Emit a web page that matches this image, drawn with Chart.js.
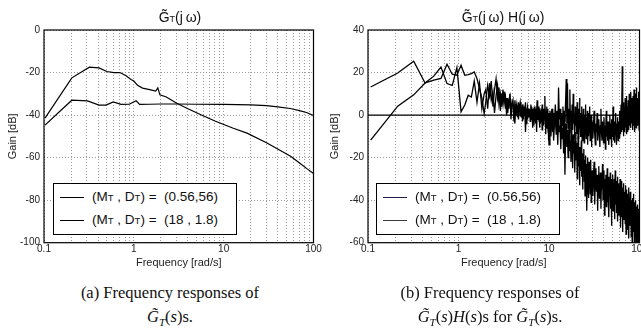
<!DOCTYPE html>
<html>
<head>
<meta charset="utf-8">
<script src="https://cdn.jsdelivr.net/npm/chart.js@4.4.0/dist/chart.umd.min.js"></script>
<style>
  body { margin: 0; background: #fff; width: 641px; height: 335px; overflow: hidden; position: relative; font-family: "Liberation Sans", Arial, sans-serif; }
  canvas { position: absolute; top: 0; }
  .title { position: absolute; top: 9px; font-size: 14px; color: #111; text-align: center; white-space: nowrap; }
  .sm { font-size: 9px; }
  .legend { position: absolute; top: 183px; width: 182px; height: 50px; border: 1px solid #000; background: #fff; font-size: 13.5px; color: #111; }
  .legend .sm { font-size: 9.5px; }
  .row { position: absolute; left: 0; height: 20px; line-height: 20px; white-space: nowrap; }
  .row i { position: absolute; left: 6px; top: 10px; width: 24px; height: 0; border-top: 1.3px solid #000; }
  .row span.t { position: absolute; left: 38px; }
  .cap { position: absolute; font-family: "Liberation Serif", "DejaVu Serif", serif; font-size: 16.5px; color: #111; text-align: center; white-space: nowrap; }
</style>
</head>
<body>
<canvas id="left" width="330" height="272" style="left:0"></canvas>
<canvas id="right" width="330" height="272" style="left:322px"></canvas>

<div class="title" style="left:130px;width:100px">G&#771;<span class="sm">T</span>(j&thinsp;&omega;)</div>
<div class="title" style="left:428px;width:150px">G&#771;<span class="sm">T</span>(j&thinsp;&omega;) H(j&thinsp;&omega;)</div>

<div class="legend" style="left:53px">
  <div class="row" style="top:3px"><i></i><span class="t">(M<span class="sm">T</span> , D<span class="sm">T</span>) =&nbsp; (0.56,56)</span></div>
  <div class="row" style="top:26px"><i></i><span class="t">(M<span class="sm">T</span> , D<span class="sm">T</span>) =&nbsp; (18 , 1.8)</span></div>
</div>
<div class="legend" style="left:376px">
  <div class="row" style="top:3px"><i style="border-color:#1c1c50"></i><span class="t">(M<span class="sm">T</span> , D<span class="sm">T</span>) =&nbsp; (0.56,56)</span></div>
  <div class="row" style="top:26px"><i style="border-color:#3a3a3a"></i><span class="t">(M<span class="sm">T</span> , D<span class="sm">T</span>) =&nbsp; (18 , 1.8)</span></div>
</div>

<div class="cap" style="left:40px;width:260px;top:283px">(a) Frequency responses of</div>
<div class="cap" style="left:40px;width:260px;top:307px"><i>G&#771;<sub style="font-size:11px">T</sub></i>(<i>s</i>)s.</div>
<div class="cap" style="left:360px;width:260px;top:283px">(b) Frequency responses of</div>
<div class="cap" style="left:340px;width:300px;top:307px"><i>G&#771;<sub style="font-size:11px">T</sub></i>(<i>s</i>)<i>H</i>(<i>s</i>)s for <i>G&#771;<sub style="font-size:11px">T</sub></i>(<i>s</i>)s.</div>

<script>
// grid positions on the log axis, labels only on decades
const xGrid = [0.1,0.2,0.3,0.4,0.5,0.6,0.7,0.8,0.9,1,2,3,4,5,6,7,8,9,10,20,30,40,50,60,70,80,90,100];
const xLabels = [0.1, 1, 10, 100];

// (a) G~T(jw)
const leftFreqFlat = [0.1026,0.204,0.305,0.41,0.49,0.59,0.72,0.89,1.06,1.16,1.5,2,3,5,10,20,30,40,55,70,85,100];
const leftGainFlat = [-44.7,-33,-33.3,-35.3,-35.3,-33.8,-35,-34.9,-33.3,-35,-34.9,-34.8,-34.8,-34.9,-35,-35.2,-35.6,-36.1,-36.9,-37.9,-38.9,-40.2];
const leftFreqDrop = [0.1026,0.204,0.32,0.41,0.5,0.6,0.7,0.82,0.93,1.0,1.1,1.25,1.5,1.75,1.85,1.95,2.3,2.97,4,5.9,8,12.8,18.2,30,55.6,70,85,100];
const leftGainDrop = [-41.4,-22.5,-17.5,-17.8,-19.5,-20,-20,-21.5,-23.3,-24,-26,-27.3,-28,-28.7,-27.2,-30.5,-31.5,-34.3,-37,-40.3,-42.8,-46.2,-48.5,-53,-59.4,-62.5,-65.3,-67.5];

// (b) G~T(jw) H(jw): low frequency bins
const lowFreq = [0.107,0.213,0.32,0.427,0.533,0.64,0.747,0.853,0.96,1.067,1.173,1.28,1.387,1.493,1.6,1.707,1.813,1.92];
const lowGain1 = [13.2,19.8,25.3,15.1,16.4,17.2,23.9,19.2,18.7,23.4,18.7,19,19.5,20.3,17.2,12.5,8,0.7];
const lowGain2 = [-11.8,4.2,9.5,15.1,18.3,22.6,14.8,14,22.4,1.5,4.7,9.3,8.5,16,6,15,3,10];

// higher frequency bins
const freqA = [2,2.1,2.2,2.3,2.4,2.5,2.6,2.7,2.8,2.9,3,3.1,3.2,3.3,3.4,3.5,3.6,3.7,3.8,3.9,
  4,4.1,4.2,4.3,4.4,4.5,4.6,4.7,4.8,4.9,5,5.1,5.2,5.3,5.4,5.5,5.6,5.7,5.8,5.9,
  6,6.1,6.2,6.3,6.4,6.5,6.6,6.7,6.8,6.9,7,7.1,7.2,7.3,7.4,7.5,7.6,7.7,7.8,7.9,
  8,8.1,8.2,8.3,8.4,8.5,8.6,8.7,8.8,8.9,9,9.1,9.2,9.3,9.4,9.5,9.6,9.7,9.8,9.9];
const freqB = [10,10.25,10.5,10.75,11,11.25,11.5,11.75,12,12.25,12.5,12.75,13,13.25,13.5,13.75,
  14,14.25,14.5,14.75,15,15.25,15.5,15.75,16,16.25,16.5,16.75,17,17.25,17.5,17.75,
  18,18.25,18.5,18.75,19,19.25,19.5,19.75,20,20.25,20.5,20.75,21,21.25,21.5,21.75,
  22,22.25,22.5,22.75,23,23.25,23.5,23.75,24,24.25,24.5,24.75,25,25.25,25.5,25.75,
  26,26.25,26.5,26.75,27,27.25,27.5,27.75,28,28.25,28.5,28.75,29,29.25,29.5,29.75];
const freqC = [30,30.5,31,31.5,32,32.5,33,33.5,34,34.5,35,35.5,36,36.5,37,37.5,38,38.5,39,39.5,
  40,40.5,41,41.5,42,42.5,43,43.5,44,44.5,45,45.5,46,46.5,47,47.5,48,48.5,49,49.5,
  50,50.5,51,51.5,52,52.5,53,53.5,54,54.5,55,55.5,56,56.5,57,57.5,58,58.5,59,59.5,
  60,60.5,61,61.5,62,62.5,63,63.5,64,64.5,65,65.5,66,66.5,67,67.5,68,68.5,69,69.5,
  70,70.5,71,71.5,72,72.5,73,73.5,74,74.5,75,75.5,76,76.5,77,77.5,78,78.5,79,79.5,
  80,80.5,81,81.5,82,82.5,83,83.5,84,84.5,85,85.5,86,86.5,87,87.5,88,88.5,89,89.5,
  90,90.5,91,91.5,92,92.5,93,93.5,94,94.5,95,95.5,96,96.5,97,97.5,98,98.5,99,99.5,100];

const gain1A = [6,14,9,16,4,12,17,8,13,2, 10,5,11,3,8,1,7,9,2,6, 4,-3,7,2,5,-1,6,3,0,4, 2,5,-2,3,1,6,-4,2,4,0,
  3,-1,2,5,0,3,-6,2,1,4, 0,3,-2,2,7,-1,1,4,-3,2, 1,-4,3,0,5,-2,2,-5,3,0, 9,-2,2,-6,4,1,-3,3,-8,1];
const gain1B = [-14,2,-4,3,-8,1,-3,5, -6,2,-9,13,-2,3,-7,1, -5,4,-10,2,-3,6,17,-4, 15,-6,3,-8,12,-3,2,-10,
  5,-7,10,-4,1,-12,4,-5, 2,-9,6,-3,-11,3,-6,8, -4,-10,1,-7,4,-12,-2,-8, 3,-6,-13,0,-9,5,-5,-11,
  -1,-8,2,-14,-4,1,-10,-3, -7,4,-12,-2,-9,0,-15,-5];
const gain1C = [-3,-11,-5,2,-9,-14,-4,-8,1,-12, -6,-2,-10,-15,-5,3,-8,-12,-3,-7, -13,-1,-9,-5,-16,-4,2,-10,-7,-12,
  -3,-9,-14,-6,0,-11,-4,-8,-15,-2, -10,-6,4,-12,-7,-3,-13,-5,-9,1, -8,-14,-4,-10,-1,-7,-12,-3,-9,-5,
  2,-11,-6,-2,-9,5,-4,-8,0,23, -7,-3,6,-10,-1,-5,3,-8,-2,8, -6,1,-4,9,-9,-2,4,-5,0,-8,
  7,-3,2,-7,10,-1,-5,5,-3,3, -6,11,0,-4,6,-2,8,-7,2,-1, 9,-5,4,-3,12,0,-8,6,-2,3,
  -4,10,1,-6,7,-1,13,-3,5,0, -5,8,2,-2,11,-4,6,1,-7,9,2];

const gain2A = [12,3,15,7,11,1,9,14,5,10, 4,12,6,9,0,8,3,10,-2,5, 7,0,-4,5,1,3,-2,4,6,-1, 3,-3,4,0,2,-8,1,3,-2,2,
  -1,3,-3,1,4,-2,0,2,-5,1, 2,-4,1,-8,3,0,-2,2,-1,-6, 2,-1,-3,1,-7,2,-2,0,-4,3, -2,1,-9,0,-4,2,-6,-1,-3,-12];
const gain2B = [-6,1,-10,-2,3,-12,-4,0, -9,-3,-14,1,-8,-5,-16,-2, -11,-6,-18,0,-28,-9,-4,-15, -7,-20,-10,-3,-17,-12,-22,-6,
  -14,-25,-9,-18,-12,-27,-16,-8, -21,-13,-30,-17,-10,-24,-19,-33, -15,-26,-20,-12,-29,-22,-35,-18,
  -25,-16,-31,-21,-38,-24,-19,-30, -23,-45,-27,-20,-34,-26,-39,-22, -30,-24,-37,-28,-21,-41,-29,-33];
const gain2C = [-26,-38,-29,-22,-42,-31,-25,-36,-28,-45, -30,-24,-39,-33,-27,-44,-29,-35,-23,-40,
  -32,-26,-47,-30,-37,-28,-43,-34,-25,-41, -36,-29,-48,-31,-38,-27,-44,-33,-52,-30,
  -37,-28,-45,-34,-40,-30,-49,-35,-26,-42, -33,-46,-31,-39,-29,-50,-36,-41,-32,-47,
  -35,-44,-30,-53,-38,-33,-48,-40,-31,-45, -37,-55,-34,-42,-32,-49,-39,-46,-36,-51,
  -40,-33,-56,-38,-44,-35,-50,-42,-37,-54, -41,-47,-34,-58,-43,-39,-52,-45,-36,-49,
  -44,-38,-57,-42,-48,-40,-60,-46,-39,-53, -43,-50,-37,-55,-45,-60,-41,-48,-52,-44,
  -58,-46,-40,-60,-49,-43,-56,-47,-60,-45, -51,-42,-60,-48,-55,-44,-60,-50,-46,-60,-52];

const hfFreq = [...freqA, ...freqB, ...freqC];
const rightFreq = [...lowFreq, ...hfFreq];
const rightGain1 = [...lowGain1, ...gain1A, ...gain1B, ...gain1C];
const rightGain2 = [...lowGain2, ...gain2A, ...gain2B, ...gain2C];

const toPoints = (xs, ys) => xs.map((x, i) => ({ x: x, y: ys[i] }));

const framePlugin = {
  id: "frame",
  afterDraw(chart) {
    const { ctx, chartArea: a } = chart;
    ctx.save();
    ctx.strokeStyle = "#000";
    ctx.lineWidth = 1.2;
    ctx.strokeRect(a.left, a.top, a.right - a.left, a.bottom - a.top);
    ctx.restore();
  },
};

Chart.defaults.font.family = '"Liberation Sans", Arial, sans-serif';
Chart.defaults.color = "#222";

const makeChart = (id, datasets, yMin, yMax, padRight, yWidth) => {
  const line = (pts, width) => ({
    data: pts,
    borderColor: "#000",
    borderWidth: width,
    pointRadius: 0,
    tension: 0,
    fill: false,
  });
  return new Chart(document.getElementById(id), {
    type: "line",
    data: { datasets: datasets.map((d) => line(d.pts, d.width)) },
    plugins: [framePlugin],
    options: {
      responsive: false,
      animation: false,
      layout: { padding: { top: 30, right: padRight, left: 0, bottom: 0 } },
      plugins: { legend: { display: false }, tooltip: { enabled: false } },
      scales: {
        x: {
          type: "logarithmic",
          min: 0.1,
          max: 100,
          afterBuildTicks: (axis) => {
            axis.ticks = xGrid.map((v) => ({ value: v }));
          },
          afterFit: (axis) => {
            axis.height = 29.3;
          },
          ticks: {
            autoSkip: false,
            maxRotation: 0,
            padding: 1,
            font: { size: 10 },
            callback: (v) => (xLabels.includes(v) ? String(v) : ""),
          },
          grid: { color: "#9a9a9a", lineWidth: 1, drawTicks: false },
          border: { display: false, dash: [1, 2] },
          title: { display: true, text: "Frequency [rad/s]", font: { size: 11 }, padding: { top: 0, bottom: 2 } },
        },
        y: {
          min: yMin,
          max: yMax,
          afterFit: (axis) => {
            axis.width = yWidth;
          },
          ticks: { stepSize: 20, padding: 4, font: { size: 10 } },
          grid: { color: "#9a9a9a", lineWidth: 1, drawTicks: false },
          border: { display: false, dash: [1, 2] },
          title: { display: true, text: "Gain [dB]", font: { size: 11 }, padding: { top: 6, bottom: 0 } },
        },
      },
    },
  });
};

makeChart(
  "left",
  [
    { pts: toPoints(leftFreqFlat, leftGainFlat), width: 1.2 },
    { pts: toPoints(leftFreqDrop, leftGainDrop), width: 1.2 },
  ],
  -100, 0, 16.5, 44
);

makeChart(
  "right",
  [
    { pts: toPoints([0.1, 100], [0, 0]), width: 1.4 },
    { pts: toPoints(rightFreq, rightGain1), width: 1.3 },
    { pts: toPoints(rightFreq, rightGain2), width: 1.3 },
  ],
  -60, 40, 12.5, 46
);
</script>
</body>
</html>
